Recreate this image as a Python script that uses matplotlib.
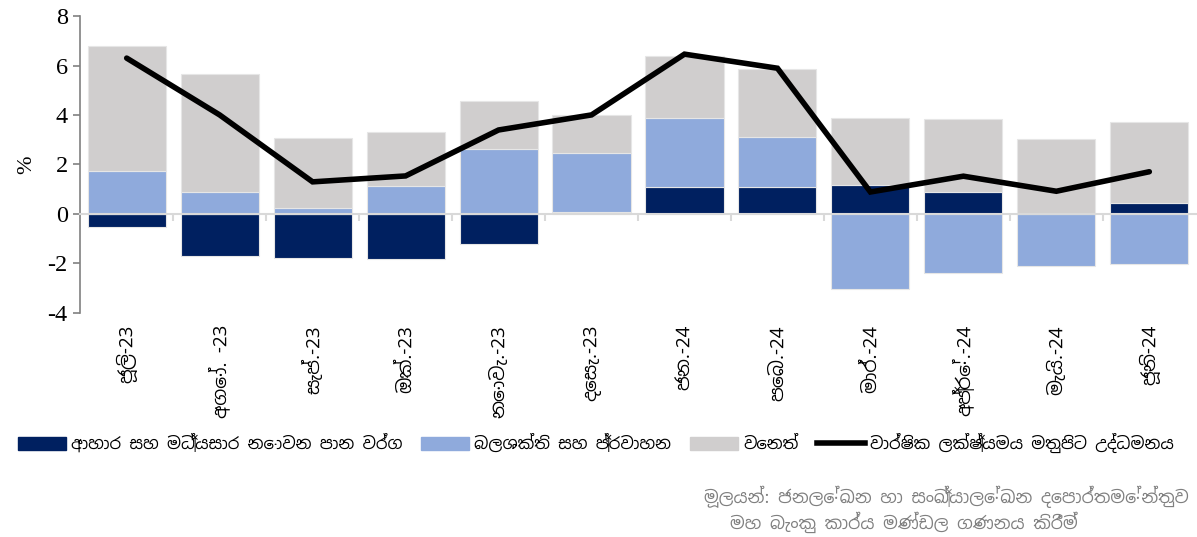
import matplotlib
matplotlib.use("Agg")
import matplotlib.pyplot as plt
import matplotlib.font_manager as fm
from matplotlib.ft2font import FT2Font
from matplotlib.patches import Patch
from matplotlib.lines import Line2D
import numpy as np

# ---------------- data ----------------
months = ["ජූලි-23", "අගෝ. -23", "සැප්.-23", "ඔක්.-23", "නොවැ.-23", "දෙසැ.-23",
          "ජන.-24", "පෙබ.-24", "මාර්.-24", "අප්‍රේ.-24", "මැයි.-24", "ජූනි-24"]
food = [-0.53, -1.72, -1.79, -1.83, -1.21, 0.07, 1.07, 1.09, 1.16, 0.88, 0.0, 0.45]
energy = [1.74, 0.87, 0.22, 1.13, 2.62, 2.38, 2.82, 2.03, -3.03, -2.39, -2.12, -2.02]
other = [5.07, 4.80, 2.86, 2.19, 1.93, 1.53, 2.51, 2.73, 2.71, 2.97, 3.02, 3.25]
headline = [6.30, 4.00, 1.29, 1.53, 3.39, 4.00, 6.46, 5.89, 0.88, 1.52, 0.91, 1.70]

series_names = ["ආහාර සහ මධ්‍යසාර නොවන පාන වර්ග", "බලශක්ති සහ ප්‍රවාහන", "වෙනත්",
                "වාර්ෂික ලක්ෂ්‍යමය මතුපිට උද්ධමනය"]
source_lines = ["මූලයන්: ජනලේඛන හා සංඛ්‍යාලේඛන දෙපාර්තමේන්තුව",
                "මහ බැංකු කාර්ය මණ්ඩල ගණනය කිරීම්"]
yticks = [-4, -2, 0, 2, 4, 6, 8]

# ---------------- fonts ----------------
def find_sinhala():
    cands = sorted(fm.fontManager.ttflist,
                   key=lambda f: 0 if ("Sinhala" in f.name or "Iskoola" in f.name) else 1)
    for f in cands:
        try:
            cm = FT2Font(f.fname).get_charmap()
            if 0x0DA2 in cm and 0x0DC3 in cm:
                return f.name
        except Exception:
            continue
    return None

sfont = find_sinhala()
sin_family = [sfont, "DejaVu Sans"] if sfont else ["DejaVu Sans"]
serif = ["Liberation Serif", "DejaVu Serif"]

c_food = "#002060"
c_energy = "#8FAADC"
c_other = "#D0CECE"

fig = plt.figure(figsize=(11.97, 5.37), dpi=100)
ax = fig.add_axes([0.067, 0.418, 0.932, 0.552])

x = np.arange(len(months))
food = np.array(food)
energy = np.array(energy)
other = np.array(other)

pos_base = np.zeros(len(x))
neg_base = np.zeros(len(x))
w = 0.84
for vals, col in [(food, c_food), (energy, c_energy), (other, c_other)]:
    bottoms = np.where(vals >= 0, pos_base, neg_base)
    ax.bar(x, vals, w, bottom=bottoms, color=col, edgecolor="#E6E6E6", linewidth=0.8, zorder=2)
    pos_base = pos_base + np.where(vals >= 0, vals, 0)
    neg_base = neg_base + np.where(vals < 0, vals, 0)

ax.plot(x, headline, color="black", lw=4, solid_capstyle="round", solid_joinstyle="miter", zorder=4)

ax.set_xlim(-0.5, len(months) - 0.5)
ax.set_ylim(-4, 8)
ax.set_yticks(yticks)
ax.set_yticklabels([str(v) for v in yticks], fontfamily=serif, fontsize=17.5)
ax.tick_params(axis="y", direction="out", length=5, color="#808080", width=1.2, pad=4)

for s in ["top", "right"]:
    ax.spines[s].set_visible(False)
ax.spines["left"].set_color("#808080")
ax.spines["left"].set_linewidth(1.2)
ax.spines["bottom"].set_position(("data", 0))
ax.spines["bottom"].set_color("#D9D9D9")
ax.spines["bottom"].set_linewidth(1.5)
ax.spines["bottom"].set_zorder(3)
ax.set_xticks(np.arange(0.5, len(months) - 0.5, 1.0))
ax.set_xticklabels([])
ax.tick_params(axis="x", direction="out", length=5, color="#D9D9D9", width=1.5)

sec = ax.secondary_xaxis(0)
sec.set_xticks(x)
sec.set_xticklabels(months, rotation=90, fontfamily=sin_family, fontsize=13.5)
sec.tick_params(length=0, pad=9)
sec.spines["bottom"].set_visible(False)

ax.set_ylabel("%", fontfamily=serif, fontsize=16, labelpad=8)

handles = [Patch(color=c_food), Patch(color=c_energy), Patch(color=c_other),
           Line2D([0], [0], color="black", lw=4)]
leg = fig.legend(handles, series_names, loc="center left", bbox_to_anchor=(0.015, 0.175),
                 ncol=4, frameon=False, prop={"family": sin_family, "size": 11.9},
                 handlelength=2.9, handleheight=0.8, handletextpad=0.3, columnspacing=1.15,
                 borderpad=0, borderaxespad=0)

fig.text(0.993, 0.075, source_lines[0], ha="right", va="center", color="#808080",
         fontfamily=sin_family, fontsize=12.5)
fig.text(0.90, 0.027, source_lines[1], ha="right", va="center", color="#808080",
         fontfamily=sin_family, fontsize=12.5)

fig.savefig("out.png", dpi=100)
